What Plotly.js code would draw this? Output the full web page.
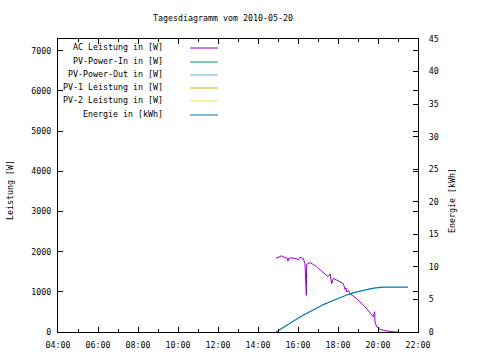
<!DOCTYPE html>
<html><head><meta charset="utf-8">
<script src="https://cdn.plot.ly/plotly-3.0.1.min.js"></script>
<style>html,body{margin:0;padding:0;background:#fff}#chart{width:480px;height:360px}</style>
</head><body><div id="chart"></div>
<script>
const DAY = '2010-05-20 ';
const acTimes = ['14:54','15:00','15:06','15:11','15:16','15:21','15:28','15:30','15:32','15:40','15:46','15:56','16:00','16:06','16:12','16:16','16:21','16:25','16:26','16:36','16:46','16:56','17:06','17:16','17:26','17:30','17:36','17:41','17:46','17:56','18:06','18:16','18:21','18:24','18:26','18:31','18:36','18:46','18:56','19:06','19:16','19:26','19:36','19:46','19:50','19:51','19:56','20:06','20:21','20:36','20:51','21:00'];
const acPower = [1844,1850,1880,1893,1870,1860,1827,1760,1830,1844,1835,1827,1790,1860,1840,1827,1696,913,1679,1728,1679,1630,1547,1481,1415,1380,1449,1202,1333,1300,1251,1202,1060,1100,995,1037,955,889,832,748,667,585,477,378,501,254,131,67,33,8,0,0];
const energyTimes = ['14:54','15:12','15:30','15:48','16:06','16:24','16:42','17:00','17:18','17:36','17:54','18:12','18:30','18:48','19:06','19:24','19:42','20:00','20:18','21:30'];
const energyKWh = [0,0.6,1.2,1.75,2.3,2.8,3.3,3.8,4.25,4.65,5.05,5.45,5.75,6.05,6.3,6.5,6.7,6.8,6.9,6.9];
const seriesNames = ['AC Leistung in [W]','PV-Power-In in [W]','PV-Power-Out in [W]','PV-1 Leistung in [W]','PV-2 Leistung in [W]','Energie in [kWh]'];
const seriesColors = ['#9400d3','#009e73','#56b4e9','#e69f00','#f0e442','#0072b2'];
const xTickFmt = '%H:%M';

const F = 'DejaVu Sans Mono, monospace';
const fs = 8.3;
const W = 480, H = 360, L = 58, R = 418, T = 39, B = 332;
const px = x => (x - L) / (R - L);
const py = y => (B - y) / (B - T);

const traces = [
  {x: acTimes.map(t => DAY + t), y: acPower, type: 'scatter', mode: 'lines', name: seriesNames[0], line: {color: seriesColors[0], width: 1}, yaxis: 'y'},
  {x: [], y: [], type: 'scatter', mode: 'lines', name: seriesNames[1], line: {color: seriesColors[1], width: 1}},
  {x: [], y: [], type: 'scatter', mode: 'lines', name: seriesNames[2], line: {color: seriesColors[2], width: 1}},
  {x: [], y: [], type: 'scatter', mode: 'lines', name: seriesNames[3], line: {color: seriesColors[3], width: 1}},
  {x: [], y: [], type: 'scatter', mode: 'lines', name: seriesNames[4], line: {color: seriesColors[4], width: 1}},
  {x: energyTimes.map(t => DAY + t), y: energyKWh, type: 'scatter', mode: 'lines', name: seriesNames[5], line: {color: seriesColors[5], width: 1.2}, yaxis: 'y2'}
];

const legendRows = [47, 61, 74, 87, 100, 114];
const annotations = seriesNames.map((n, i) => ({
  text: n, xref: 'paper', yref: 'paper', x: px(165), y: py(legendRows[i]),
  xanchor: 'right', yanchor: 'middle', showarrow: false, font: {family: F, size: fs, color: '#000'}
}));
annotations.push({text: 'Leistung [W]', xref: 'paper', yref: 'paper', x: px(10), y: py(190), textangle: -90, xanchor: 'center', yanchor: 'middle', showarrow: false, font: {family: F, size: fs, color: '#000'}});
annotations.push({text: 'Energie [kWh]', xref: 'paper', yref: 'paper', x: px(452), y: py(201), textangle: -90, xanchor: 'center', yanchor: 'middle', showarrow: false, font: {family: F, size: fs, color: '#000'}});
const shapes = seriesColors.map((c, i) => ({
  type: 'line', xref: 'paper', yref: 'paper', x0: px(190), x1: px(218), y0: py(legendRows[i] + 1), y1: py(legendRows[i] + 1),
  line: {color: c, width: 1}
}));

const layout = {
  width: W, height: H,
  margin: {l: L, r: W - R, t: T, b: H - B, pad: 0},
  paper_bgcolor: '#fff', plot_bgcolor: '#fff',
  showlegend: false,
  font: {family: F, size: fs, color: '#000'},
  title: {text: 'Tagesdiagramm vom 2010-05-20', xref: 'container', yref: 'container', x: 223 / W, y: 1 - 18 / H, xanchor: 'center', yanchor: 'middle', font: {family: F, size: fs, color: '#000'}},
  xaxis: {
    type: 'date', range: [DAY + '04:00', DAY + '22:00'], dtick: 7200000, tick0: DAY + '04:00', tickformat: xTickFmt,
    ticks: 'inside', ticklen: 5, tickcolor: '#000', showline: true, linecolor: '#000', linewidth: 1, mirror: 'ticks',
    showgrid: false, zeroline: false, ticklabelstandoff: 5, tickfont: {family: F, size: fs, color: '#000'},
    minor: {dtick: 3600000, ticks: 'inside', ticklen: 3, tickcolor: '#000', showgrid: false}
  },
  yaxis: {
    range: [0, 7290], dtick: 1000, ticks: 'inside', ticklen: 5, tickcolor: '#000', showline: true, linecolor: '#000', linewidth: 1,
    mirror: 'ticks', showgrid: false, zeroline: false, ticklabelstandoff: 4, tickfont: {family: F, size: fs, color: '#000'}
  },
  yaxis2: {
    range: [0, 45], dtick: 5, overlaying: 'y', side: 'right', ticks: 'inside', ticklen: 5, tickcolor: '#000',
    showline: true, linecolor: '#000', linewidth: 1, showgrid: false, zeroline: false, ticklabelstandoff: 8,
    tickfont: {family: F, size: fs, color: '#000'}
  },
  annotations: annotations,
  shapes: shapes
};
Plotly.newPlot('chart', traces, layout, {displayModeBar: false, staticPlot: true});
</script></body></html>
